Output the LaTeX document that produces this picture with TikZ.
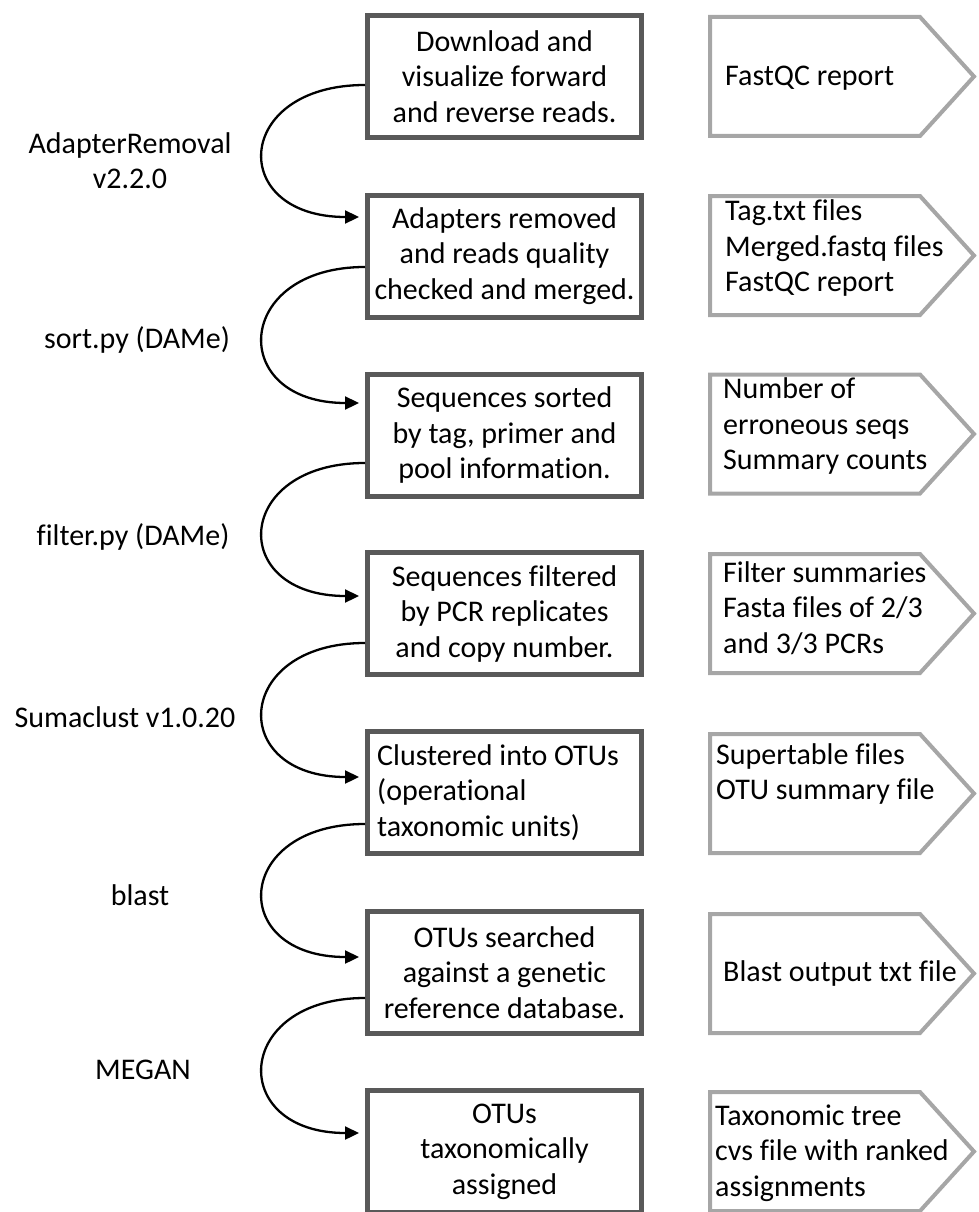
\documentclass[tikz,border=0pt]{standalone}
\usepackage{fontspec}
\setmainfont{Carlito}[Ligatures=NoCommon]
\usetikzlibrary{arrows.meta,calc}
\definecolor{boxgray}{HTML}{595959}
\definecolor{outgray}{HTML}{A6A6A6}
\begin{document}
\begin{tikzpicture}[x=1pt,y=-1pt,
  txt/.style={font=\fontsize{30pt}{35.5pt}\selectfont, inner sep=0pt},
  stepbox/.style={txt, draw=boxgray, line width=5pt, minimum width=274pt, minimum height=122pt, align=center},
  outtext/.style={txt, anchor=west, align=left},
  outline/.style={draw=outgray, line width=4pt, line join=miter},
  tool/.style={txt, align=center},
  flow/.style={draw=black, line width=2.3pt, -{Triangle[length=14pt,width=13pt]}}
]
\useasboundingbox (0,0) rectangle (978,1212);

% process boxes
\node[stepbox] (b1) at (504.5,76.5) {Download and\\visualize forward\\and reverse reads.};
\node[stepbox] (b2) at (504.5,256) {Adapters removed\\and reads quality\\checked and merged.};
\node[stepbox] (b3) at (504.5,435) {Sequences sorted\\by tag, primer and\\pool information.};
\node[stepbox] (b4) at (504.5,613.5) {Sequences filtered\\by PCR replicates\\and copy number.};
\node[stepbox] (b5) at (504.5,792.5) {};
\node[txt, anchor=west, align=left] (b5t) at ($(b5.west)+(12,0)$) {Clustered into OTUs\\(operational\\taxonomic units)};
\node[stepbox] (b6) at (504.5,972.5) {OTUs searched\\against a genetic\\reference database.};
\node[stepbox] (b7) at (504.5,1151.5) {OTUs\\taxonomically\\assigned};

% output pentagons
\foreach \c in {76.5,255.5,434,613.5,793.5,973.5,1151.5}{
  \draw[outline] (710,\c-59.5) -- (920,\c-59.5) -- (974,\c) -- (920,\c+59.5) -- (710,\c+59.5) -- cycle;
}
\node[outtext] (o1) at (725,78) {FastQC report};
\node[outtext] (o2) at (725,248) {Tag.txt files\\Merged.fastq files\\FastQC report};
\node[outtext] (o3) at (723,426) {Number of\\erroneous seqs\\Summary counts};
\node[outtext] (o4) at (723,608) {Filter summaries\\Fasta files of 2/3\\and 3/3 PCRs};
\node[outtext] (o5) at (716,774) {Supertable files\\OTU summary file};
\node[outtext] (o6) at (723,973) {Blast output txt file};
\node[outtext] (o7) at (715,1153) {Taxonomic tree\\cvs file with ranked\\assignments};

% tool labels
\node[tool] (t1) at (130,160.5) {AdapterRemoval\\v2.2.0};
\node[tool] (t2) at (137,340) {sort.py (DAMe)};
\node[tool] (t3) at (133,537) {filter.py (DAMe)};
\node[tool] (t4) at (125,717) {Sumaclust v1.0.20};
\node[tool] (t5) at (140,895) {blast};
\node[tool] (t6) at (143,1070) {MEGAN};

% connectors
\draw[flow] ($(b1.west)+(0,8.5)$) .. controls +(-132,0) and +(-132,0) .. ($(b2.west)+(-6,-39)$);
\draw[flow] ($(b2.west)+(0,11)$) .. controls +(-132,0) and +(-132,0) .. ($(b3.west)+(-6,-32)$);
\draw[flow] ($(b3.west)+(0,28)$) .. controls +(-132,0) and +(-132,0) .. ($(b4.west)+(-6,-17.5)$);
\draw[flow] ($(b4.west)+(0,29.5)$) .. controls +(-132,0) and +(-132,0) .. ($(b5.west)+(-6,-15.5)$);
\draw[flow] ($(b5.west)+(0,31.5)$) .. controls +(-132,0) and +(-132,0) .. ($(b6.west)+(-6,-15.5)$);
\draw[flow] ($(b6.west)+(0,25.5)$) .. controls +(-132,0) and +(-132,0) .. ($(b7.west)+(-6,-18.5)$);
\end{tikzpicture}
\end{document}
